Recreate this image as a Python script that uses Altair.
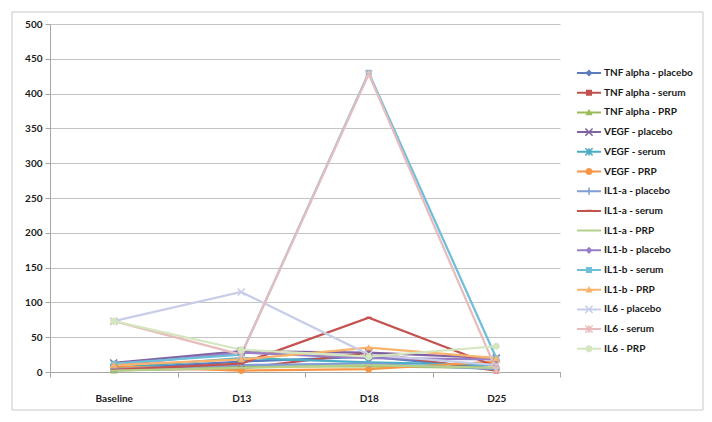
import altair as alt
import pandas as pd

categories = ["Baseline", "D13", "D18", "D25"]

series_names = [
    "TNF alpha - placebo", "TNF alpha - serum", "TNF alpha - PRP",
    "VEGF - placebo", "VEGF - serum", "VEGF - PRP",
    "IL1-a - placebo", "IL1-a - serum", "IL1-a - PRP",
    "IL1-b - placebo", "IL1-b - serum", "IL1-b - PRP",
    "IL6 - placebo", "IL6 - serum", "IL6 - PRP",
]

tnf_placebo = [5, 15, 22, 5]
tnf_serum = [3, 5, 28, 2]
tnf_prp = [2, 8, 8, 6]
vegf_placebo = [13, 30, 28, 20]
vegf_serum = [6, 20, 14, 10]
vegf_prp = [8, 2, 4, 15]
il1a_placebo = [4, 10, 12, 4]
il1a_serum = [3, 12, 78, 8]
il1a_prp = [2, 6, 10, 6]
il1b_placebo = [10, 28, 20, 18]
il1b_serum = [12, 25, 430, 20]
il1b_prp = [10, 18, 35, 20]
il6_placebo = [73, 115, 25, 10]
il6_serum = [73, 25, 428, 3]
il6_prp = [73, 32, 22, 37]

all_values = [tnf_placebo, tnf_serum, tnf_prp, vegf_placebo, vegf_serum, vegf_prp,
              il1a_placebo, il1a_serum, il1a_prp, il1b_placebo, il1b_serum, il1b_prp,
              il6_placebo, il6_serum, il6_prp]

colors = ["#5b7dc0", "#c0504d", "#9bbb59", "#8064a2", "#4bacc6", "#f79646",
          "#7f9fd6", "#c4524f", "#b5d08c", "#9a7fc4", "#6fbfda", "#f9b36b",
          "#c8cde8", "#e8bcbc", "#d4e6be"]

marker_kinds = ["diamond", "square", "triangle", "x", "asterisk", "circle",
                "plus", "dash", "longdash", "diamond", "square", "triangle",
                "x", "asterisk", "circle"]

rows = []
for i, (name, vals) in enumerate(zip(series_names, all_values)):
    for c, v in zip(categories, vals):
        rows.append({"series": name, "order": i, "time": c, "value": v})
df = pd.DataFrame(rows)
legend_df = df[df["time"] == "Baseline"].copy()


# ---- marker path helpers (styling only) ----
def poly(pts):
    area = 0.0
    for k in range(len(pts)):
        x1, y1 = pts[k]
        x2, y2 = pts[(k + 1) % len(pts)]
        area += x1 * y2 - x2 * y1
    if area < 0:
        pts = pts[::-1]
    return "M" + "L".join(f"{x:.3f},{y:.3f}" for x, y in pts) + "Z"


def bar(ax, ay, bx, by, h):
    dx, dy = bx - ax, by - ay
    ln = (dx * dx + dy * dy) ** 0.5
    nx, ny = -dy / ln * h, dx / ln * h
    return poly([(ax + nx, ay + ny), (bx + nx, by + ny), (bx - nx, by - ny), (ax - nx, ay - ny)])


def marker(kind, m):
    t = 0.22 * m
    if kind == "diamond":
        return poly([(0, -m), (m, 0), (0, m), (-m, 0)])
    if kind == "square":
        s = 0.85 * m
        return poly([(-s, -s), (s, -s), (s, s), (-s, s)])
    if kind == "triangle":
        return poly([(0, -m), (m, 0.8 * m), (-m, 0.8 * m)])
    if kind == "x":
        return bar(-m, -m, m, m, t) + bar(-m, m, m, -m, t)
    if kind == "asterisk":
        return bar(-m, -m, m, m, t) + bar(-m, m, m, -m, t) + bar(0, -m, 0, m, t)
    if kind == "circle":
        return f"M{-m:.3f},0A{m:.3f},{m:.3f} 0 1,1 {m:.3f},0A{m:.3f},{m:.3f} 0 1,1 {-m:.3f},0Z"
    if kind == "plus":
        return bar(-m, 0, m, 0, t) + bar(0, -m, 0, m, t)
    if kind == "dash":
        return bar(-0.8 * m, 0, 0.8 * m, 0, 0.3 * m)
    return bar(-m, 0, m, 0, 0.25 * m)


plot_shapes = [marker(k, 1.0) for k in marker_kinds]
legend_shapes = [bar(-2.0, 0, 2.0, 0, 0.17) + marker(k, 0.6) for k in marker_kinds]

FONT = "Lato"
W, H = 510, 348

x_enc = alt.X("time:N", sort=categories,
              scale=alt.Scale(type="band", paddingInner=0, paddingOuter=0),
              axis=alt.Axis(title=None, labelAngle=0, tickBand="extent", tickSize=5,
                            tickColor="#a6a6a6", domainColor="#a6a6a6", grid=False,
                            labelFont=FONT, labelFontWeight="bold", labelFontSize=10,
                            labelColor="#1a1a1a", labelPadding=16))
y_enc = alt.Y("value:Q", scale=alt.Scale(domain=[0, 500], nice=False),
              axis=alt.Axis(title=None, values=list(range(0, 501, 50)), tickSize=5,
                            tickColor="#a6a6a6", domainColor="#a6a6a6",
                            gridColor="#c4c4c4", labelFont=FONT, labelFontWeight="bold",
                            labelFontSize=10, labelColor="#1a1a1a", labelPadding=3))

color_scale = alt.Scale(domain=series_names, range=colors)

frame = alt.Chart(pd.DataFrame({"a": [0]})).mark_rect(
    fill="transparent", stroke="#c8c8c8", strokeWidth=1
).encode(x=alt.value(-38), x2=alt.value(653), y=alt.value(-12), y2=alt.value(386))

lines = alt.Chart(df).mark_line(strokeWidth=2.25).encode(
    x=x_enc, y=y_enc,
    color=alt.Color("series:N", scale=color_scale, legend=None),
    detail="series:N",
    order=alt.Order("order:Q"),
)

points = alt.Chart(df).mark_point(filled=True, size=49, opacity=1).encode(
    x=x_enc, y=y_enc,
    color=alt.Color("series:N", scale=color_scale, legend=None),
    shape=alt.Shape("series:N", scale=alt.Scale(domain=series_names, range=plot_shapes), legend=None),
)

leg = alt.Legend(title=None, orient="none", legendX=533, legendY=43, symbolSize=144,
                 labelFont=FONT, labelFontWeight="bold", labelFontSize=10,
                 labelColor="#1a1a1a", labelOffset=9, rowPadding=8.7, padding=0,
                 symbolOpacity=1, symbolStrokeWidth=0)

legend_layer = alt.Chart(legend_df).mark_point(filled=True, size=49, opacity=1).encode(
    x=alt.value(-500), y=alt.value(-500),
    color=alt.Color("series:N", scale=alt.Scale(domain=series_names, range=colors), legend=leg),
    shape=alt.Shape("series:N", scale=alt.Scale(domain=series_names, range=legend_shapes), legend=leg),
)

chart = alt.layer(frame, lines, points, legend_layer).resolve_scale(
    color="independent", shape="independent"
).properties(
    width=W, height=H,
    autosize=alt.AutoSizeParams(type="none"),
    padding={"left": 42, "top": 16, "right": 144, "bottom": 42},
    background="white",
).configure_view(stroke=None)

chart.save("out.html", embed_options={"renderer": "svg", "actions": False})
